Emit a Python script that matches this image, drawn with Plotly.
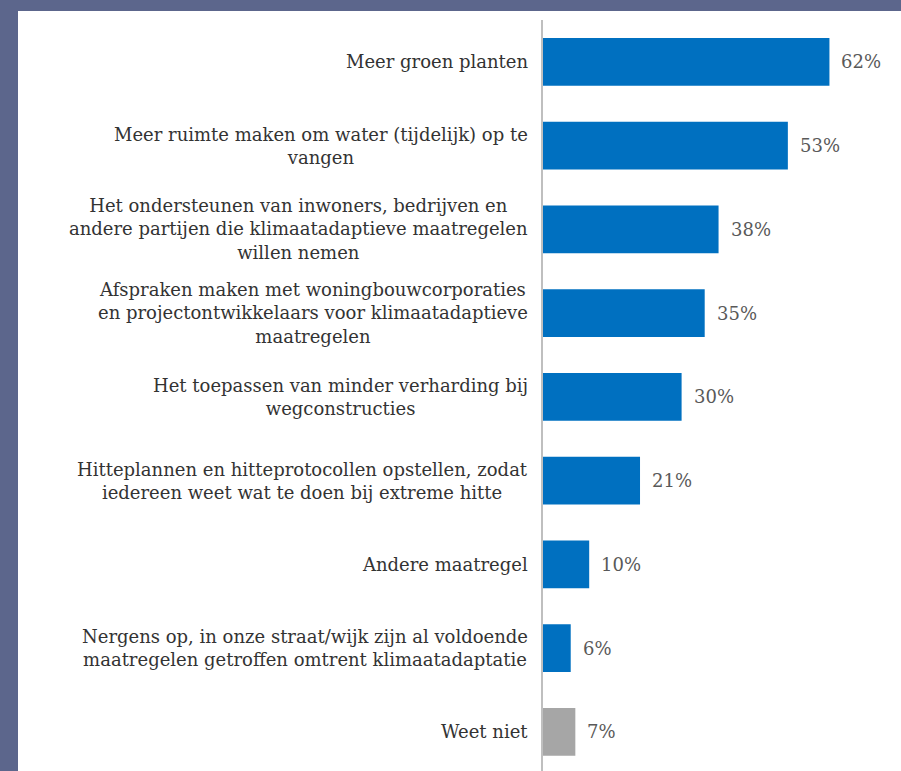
import plotly.graph_objects as go

categories = [
    "Meer groen planten",
    "Meer ruimte maken om water (tijdelijk) op te<br>vangen",
    "Het ondersteunen van inwoners, bedrijven en<br>andere partijen die klimaatadaptieve maatregelen<br>willen nemen",
    "Afspraken maken met woningbouwcorporaties<br>en projectontwikkelaars voor klimaatadaptieve<br>maatregelen",
    "Het toepassen van minder verharding bij<br>wegconstructies",
    "Hitteplannen en hitteprotocollen opstellen, zodat<br>iedereen weet wat te doen bij extreme hitte",
    "Andere maatregel",
    "Nergens op, in onze straat/wijk zijn al voldoende<br>maatregelen getroffen omtrent klimaatadaptatie",
    "Weet niet",
]
values = [62, 53, 38, 35, 30, 21, 10, 6, 7]
value_labels = ["62%", "53%", "38%", "35%", "30%", "21%", "10%", "6%", "7%"]
colors = ["#0070c0"] * 8 + ["#a6a6a6"]

W, H = 901, 771
L, T, B = 543, 20, 0
px_per_unit = 4.62
xmax = (W - L) / px_per_unit
plot_h = H - T - B
pitch = 83.75
n = len(categories)
ybottom = -0.5 + plot_h / pitch

font_family = "DejaVu Serif"

fig = go.Figure(go.Bar(
    x=values, y=categories, orientation="h",
    marker=dict(color=colors, line=dict(width=0)),
    width=0.573,
    hoverinfo="skip",
))

annotations = []
for cat, v, lab in zip(categories, values, value_labels):
    annotations.append(dict(
        x=0, y=cat, xref="x", yref="y", text=cat, showarrow=False,
        xanchor="right", yanchor="middle", align="center", xshift=-13,
        font=dict(family=font_family, size=18, color="#333333"),
    ))
    annotations.append(dict(
        x=v, y=cat, xref="x", yref="y", text=lab, showarrow=False,
        xanchor="left", yanchor="middle", xshift=10,
        font=dict(family=font_family, size=18, color="#595959"),
    ))

border = "#5c668c"
pw = W - L
shapes = [
    dict(type="rect", xref="paper", yref="paper",
         x0=-L / pw, x1=(18 - L) / pw, y0=-0.01, y1=H / plot_h + 0.01,
         fillcolor=border, line=dict(width=0), layer="above"),
    dict(type="rect", xref="paper", yref="paper",
         x0=-L / pw - 0.01, x1=1.01, y0=(H - 11) / plot_h, y1=H / plot_h + 0.01,
         fillcolor=border, line=dict(width=0), layer="above"),
]

fig.update_layout(
    width=W, height=H,
    margin=dict(l=L, r=0, t=T, b=B, autoexpand=False),
    paper_bgcolor="white", plot_bgcolor="white",
    showlegend=False,
    font=dict(family=font_family),
    xaxis=dict(range=[0, xmax], visible=False, fixedrange=True),
    yaxis=dict(
        type="category", range=[ybottom, -0.5], showticklabels=False,
        showgrid=False, zeroline=False, showline=True, linecolor="#bfbfbf",
        linewidth=2, ticks="", fixedrange=True,
    ),
    annotations=annotations,
    shapes=shapes,
)

fig.write_html(
    "out.html",
    config={"displayModeBar": False},
    post_script="document.body.style.margin='0';document.body.style.overflow='hidden';",
)
